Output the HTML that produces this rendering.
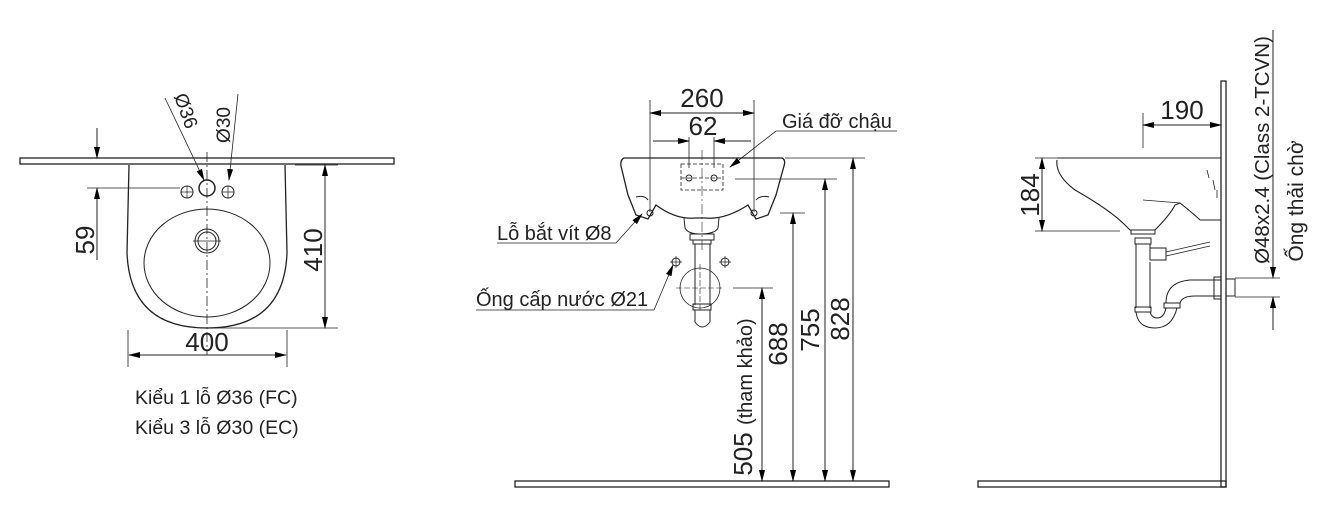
<!DOCTYPE html>
<html><head><meta charset="utf-8"><style>
html,body{margin:0;padding:0;background:#fff;}
svg{display:block;font-family:"Liberation Sans","DejaVu Sans",sans-serif;}
</style></head><body>
<svg width="1318" height="526" viewBox="0 0 1318 526" xmlns="http://www.w3.org/2000/svg">
<defs>
<marker id="a" markerWidth="12" markerHeight="8" refX="11" refY="4" orient="auto" markerUnits="userSpaceOnUse"><path d="M0,1 L12,4 L0,7 Z" fill="#000"/></marker>
</defs>
<g fill="none" stroke="#222" stroke-width="1">
<!-- LEFT VIEW -->
<rect x="20" y="158" width="374" height="6" stroke-width="1.3"/>
<path d="M129,165 L127,253 Q130,328 207,328 Q284,328 287,253 L285,165" stroke-width="1.3"/>
<ellipse cx="207" cy="263" rx="63" ry="54"/>
<circle cx="207" cy="241" r="12"/><circle cx="207" cy="241" r="9"/>
<circle cx="207" cy="188" r="8" stroke-width="1.5"/>
<circle cx="187" cy="192" r="6"/><circle cx="228" cy="192" r="6"/>
<path d="M207,152 V355" stroke-dasharray="10,3,2,3" stroke-width="0.8"/>
<path d="M193,241 H221 M181,192 H193 M187,186 V198 M222,192 H234 M228,186 V198" stroke-width="0.7"/>
<path d="M97,128 V158" marker-end="url(#a)"/>
<path d="M97,260 V188" marker-end="url(#a)"/>
<path d="M87,188 H180" stroke-width="0.8"/>
<path d="M295,165 H338 M210,328 H338" stroke-width="0.8"/>
<path d="M325,240 V165" marker-end="url(#a)"/><path d="M325,240 V328" marker-end="url(#a)"/>
<path d="M128,330 V367 M287,330 V367" stroke-width="0.8"/>
<path d="M207,355 H129" marker-end="url(#a)"/><path d="M207,355 H286" marker-end="url(#a)"/>
<path d="M165,98 L204,180" marker-end="url(#a)" stroke-width="0.8"/>
<path d="M238,94 L229,180" marker-end="url(#a)" stroke-width="0.8"/>

<!-- MIDDLE VIEW -->
<rect x="515" y="481" width="374" height="6" stroke-width="1.3"/>
<path d="M624,158 H782 Q786,160 784,166 L776,195 Q772,205 768,215 L756,219 L748,205 Q725,220 705,218 L696,218 Q676,220 656,205 L648,219 L636,215 Q632,205 628,195 L621,166 Q620,160 624,158 Z" stroke-width="1.3"/>
<path d="M636,197 Q645,195 648,200 M769,197 Q760,195 756,200"/>
<path d="M684,218 L685,228 Q688,234 700,234 Q715,234 718,228 L719,218"/>
<rect x="690" y="234" width="24" height="6"/><rect x="693" y="240" width="18" height="4"/>
<path d="M695,244 V305 M710,244 V305"/>
<rect x="693" y="304" width="18" height="6"/>
<path d="M695,310 V322 Q702,332 710,322 V310"/>
<circle cx="700" cy="288" r="20" stroke-width="0.8"/>
<path d="M676,288 H724 M700,264 V312" stroke-dasharray="6,2" stroke-width="0.6"/>
<circle cx="676" cy="262" r="4"/><path d="M670,262 H682 M676,256 V268" stroke-width="0.7"/>
<circle cx="725" cy="262" r="4"/><path d="M719,262 H731 M725,256 V268" stroke-width="0.7"/>
<circle cx="650" cy="213" r="3"/><circle cx="754" cy="213" r="3"/>
<path d="M702,150 V250" stroke-dasharray="10,3,2,3" stroke-width="0.6"/>
<rect x="681" y="164" width="42" height="26" stroke-dasharray="4,2" stroke-width="0.8"/>
<circle cx="689" cy="178" r="3"/><circle cx="714" cy="178" r="3"/>
<path d="M681,178 H723" stroke-dasharray="4,2" stroke-width="0.7"/>
<path d="M650,100 V212 M754,100 V212" stroke-width="0.8"/>
<path d="M702,113 H650" marker-end="url(#a)"/><path d="M702,113 H754" marker-end="url(#a)"/>
<path d="M689,137 V168 M714,137 V168" stroke-width="0.8"/>
<path d="M653,141 H689" marker-end="url(#a)"/><path d="M751,141 H714" marker-end="url(#a)"/>
<path d="M897,131 H776 L730,167" marker-end="url(#a)" stroke-width="0.8"/>
<path d="M497,243 H616 L642,214" marker-end="url(#a)" stroke-width="0.8"/>
<path d="M476,310 H654 L673,265" marker-end="url(#a)" stroke-width="0.8"/>
<path d="M785,158 H865 M735,179 H837 M780,213 H805 M733,288 H773" stroke-width="0.8"/>
<path d="M762,380 V288" marker-end="url(#a)"/><path d="M762,380 V481" marker-end="url(#a)"/>
<path d="M793,213 V481" marker-end="url(#a)"/>
<path d="M825,179 V481" marker-end="url(#a)"/>
<path d="M853,158 V481" marker-end="url(#a)"/>
<path d="M825,320 V179" marker-end="url(#a)"/>
<path d="M853,320 V158" marker-end="url(#a)"/>
<path d="M793,320 V213" marker-end="url(#a)"/>

<!-- RIGHT VIEW -->
<rect x="978" y="481" width="248" height="6" stroke-width="1.3"/>
<rect x="1221" y="81" width="5" height="406" stroke-width="1.3"/>
<path d="M1057,158 H1221" stroke-width="1"/>
<path d="M1057,160 Q1055,175 1075,190 Q1110,210 1125,225 L1130,230 H1155 Q1170,215 1175,205 L1180,203 Q1195,215 1200,220 L1221,220" stroke-width="1.1"/>
<path d="M1143,200 L1180,203" stroke-width="0.8"/>
<path d="M1207,170 L1209,178 M1213,180 L1215,190 M1217,190 L1217,198" stroke-width="0.8"/>
<rect x="1131" y="230" width="24" height="4"/>
<rect x="1135" y="238" width="16" height="6"/>
<path d="M1136,244 V308 M1150,244 V250 M1150,262 V308"/>
<rect x="1150" y="248" width="16" height="12"/>
<path d="M1166,252 L1210,242 M1166,256 L1210,246" stroke-width="0.8"/>
<rect x="1135" y="307" width="16" height="5"/>
<rect x="1164" y="303" width="16" height="5"/>
<path d="M1136,312 Q1138,328 1155,328 Q1172,328 1177,308 M1150,312 Q1152,318 1157,318 Q1164,318 1166,308"/>
<path d="M1166,303 Q1166,282 1190,280 H1221 M1180,303 Q1182,296 1195,296 H1221"/>
<rect x="1214" y="277" width="7" height="22"/>
<path d="M1226,279 H1235 V296 H1226"/>
<path d="M1143,113 V148" stroke-width="0.8"/>
<path d="M1182,125 H1143" marker-end="url(#a)"/><path d="M1182,125 H1221" marker-end="url(#a)"/>
<path d="M1035,158 H1057 M1035,231 H1120" stroke-width="0.8"/>
<path d="M1042,195 V158" marker-end="url(#a)"/><path d="M1042,195 V231" marker-end="url(#a)"/>
<path d="M1235,278 H1280 M1235,297 H1280" stroke-width="0.8"/>
<path d="M1273,30 V278" marker-end="url(#a)"/>
<path d="M1273,330 V297" marker-end="url(#a)"/>
</g>
<g fill="#222" font-size="26">
<text x="207" y="351" text-anchor="middle">400</text>
<text transform="translate(94,240) rotate(-90)" text-anchor="middle">59</text>
<text transform="translate(322,250) rotate(-90)" text-anchor="middle">410</text>
<text transform="translate(180,113) rotate(70)" text-anchor="middle" font-size="19">Ø36</text>
<text transform="translate(230,125) rotate(-90)" text-anchor="middle" font-size="19">Ø30</text>
<text x="702" y="107" text-anchor="middle">260</text>
<text x="703" y="135" text-anchor="middle">62</text>
<text transform="translate(787,344) rotate(-90)" text-anchor="middle">688</text>
<text transform="translate(819,330) rotate(-90)" text-anchor="middle">755</text>
<text transform="translate(849,319) rotate(-90)" text-anchor="middle">828</text>
<text transform="translate(752,397) rotate(-90)" text-anchor="middle">505 <tspan font-size="20">(tham khảo)</tspan></text>
<text x="1182" y="119" text-anchor="middle">190</text>
<text transform="translate(1039,195) rotate(-90)" text-anchor="middle">184</text>
</g>
<g fill="#222" font-size="20">
<text x="497" y="240">Lỗ bắt vít Ø8</text>
<text x="782" y="128">Giá đỡ chậu</text>
<text x="476" y="306">Ống cấp nước Ø21</text>
<text transform="translate(1269,150) rotate(-90)" text-anchor="middle" font-size="20.5">Ø48x2.4 (Class 2-TCVN)</text>
<text transform="translate(1303,201) rotate(-90)" text-anchor="middle" font-size="21">Ống thải chờ</text>
</g>
<g fill="#222" font-size="19.5">
<text x="135" y="404">Kiểu 1 lỗ Ø36 (FC)</text>
<text x="135" y="434">Kiểu 3 lỗ Ø30 (EC)</text>
</g>
</svg>
</body></html>
